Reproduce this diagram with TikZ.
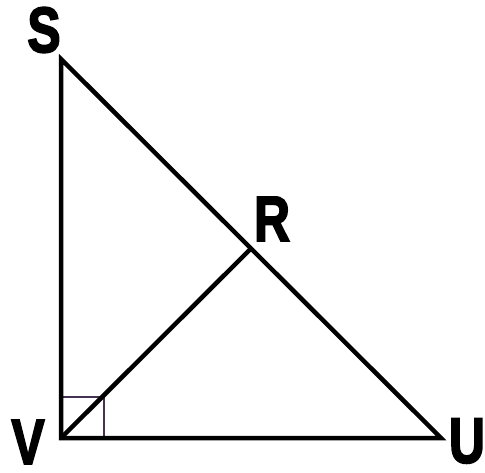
\documentclass[tikz,border=0pt]{standalone}
\usepackage{fontspec}
\setmainfont{Liberation Sans}
\newfontfamily\lblfont[FakeBold=3]{Liberation Sans Bold}
\usetikzlibrary{calc}
\begin{document}
\begin{tikzpicture}[x=1pt,y=-1pt,
  lbl/.style={font=\fontsize{64}{64}\lblfont, inner sep=0pt, xscale=0.78},
  edge/.style={line width=4.5pt, line join=miter, black},
  rightmark/.style={line width=1.6pt, draw=sq}]
\definecolor{sq}{RGB}{70,50,80}
\useasboundingbox (0,0) rectangle (485,473);
\coordinate (S) at (61,59);
\coordinate (V) at (61,438);
\coordinate (U) at (441,438);
\coordinate (R) at ($(S)!0.5!(U)$);
\coordinate (Q1) at (61,397);
\coordinate (Q2) at (104,397);
\coordinate (Q3) at (104,438);
\draw[rightmark] (Q1) -- (Q2) -- (Q3);
\draw[edge] (S) -- (U) -- (V) -- cycle;
\draw[edge] (V) -- (R);
\node[lbl] (lS) at (44,30) {S};
\node[lbl] (lR) at (272,219) {R};
\node[lbl] (lV) at (28,442) {V};
\node[lbl] (lU) at (467,441) {U};
\end{tikzpicture}
\end{document}
